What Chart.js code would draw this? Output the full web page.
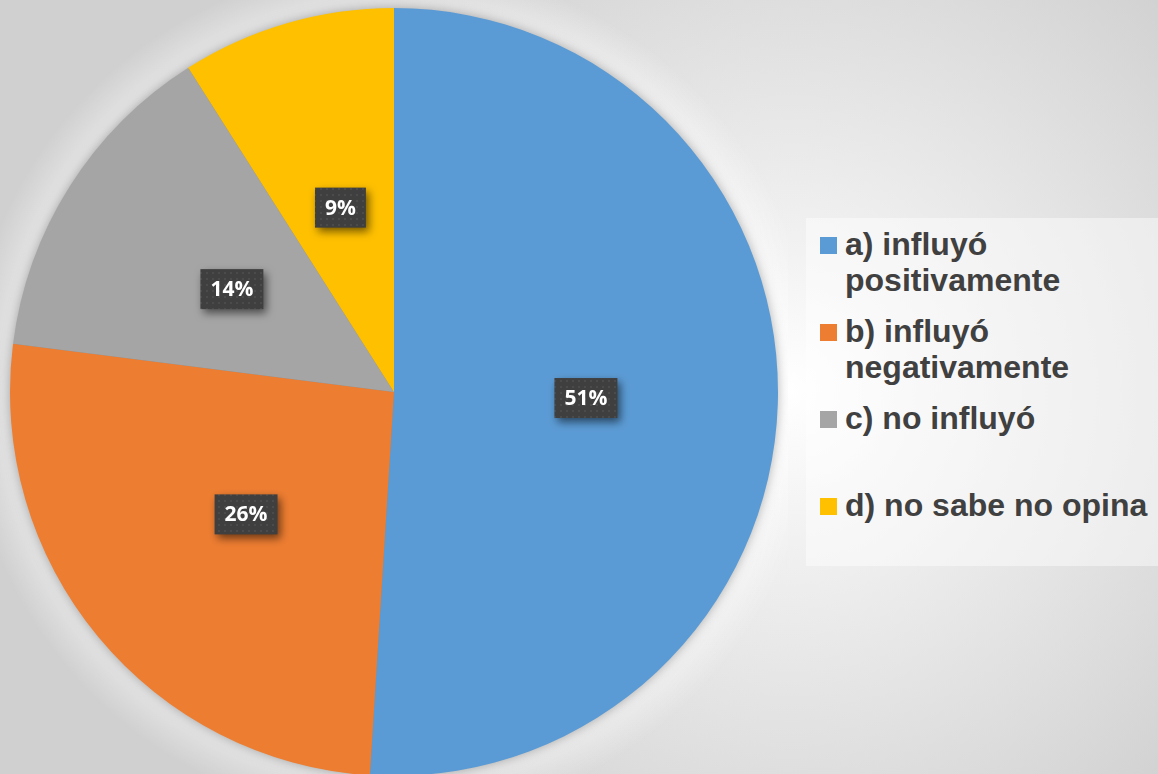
<!DOCTYPE html>
<html>
<head>
<meta charset="utf-8">
<script src="https://cdn.jsdelivr.net/npm/chart.js@4.4.1/dist/chart.umd.min.js"></script>
<style>
  html, body { margin: 0; padding: 0; }
  body {
    width: 1158px; height: 774px; overflow: hidden; position: relative;
    background: radial-gradient(circle 560px at 790px 390px, #ffffff 0%, #f2f2f2 25%, #d0d0d0 100%);
    font-family: "Liberation Sans", Arial, sans-serif;
  }
  #chartWrap { position: absolute; left: 0; top: 0; width: 788px; height: 784px; }
  #legend {
    position: absolute; left: 806px; top: 218px; width: 352px; height: 348px;
    background: rgba(255,255,255,0.45);
  }
  .item { position: absolute; left: 14px; display: flex; align-items: flex-start; }
  .marker { width: 17px; height: 17px; margin-top: 11px; margin-right: 8px; flex: none; }
  .text {
    width: 308px; font-weight: bold; font-size: 32px; line-height: 36px; color: #404040;
  }
</style>
</head>
<body>
<div id="chartWrap"><canvas id="c" width="788" height="784"></canvas></div>
<div id="legend"></div>
<script>
const categories = ["a) influyó positivamente", "b) influyó negativamente", "c) no influyó", "d) no sabe no opina"];
const percentages = [51, 26, 14, 9];
const sliceColors = ["#5B9BD5", "#ED7D31", "#A5A5A5", "#FFC000"];

// HTML legend built from the data arrays
const legend = document.getElementById('legend');
categories.forEach((lab, i) => {
  const it = document.createElement('div');
  it.className = 'item';
  it.style.top = (8 + i * 87) + 'px';
  const m = document.createElement('div');
  m.className = 'marker';
  m.style.background = sliceColors[i];
  const t = document.createElement('div');
  t.className = 'text';
  t.textContent = lab;
  it.appendChild(m); it.appendChild(t);
  legend.appendChild(it);
});

// dotted pattern for label boxes
function makePattern(ctx) {
  const pc = document.createElement('canvas');
  pc.width = 6; pc.height = 6;
  const p = pc.getContext('2d');
  p.fillStyle = '#3f3f3f';
  p.fillRect(0, 0, 6, 6);
  p.fillStyle = '#4b4b4b';
  p.fillRect(2, 2, 2, 2);
  return ctx.createPattern(pc, 'repeat');
}

const pieShadow = {
  id: 'pieShadow',
  beforeDatasetsDraw(chart) {
    const arc = chart.getDatasetMeta(0).data[0];
    if (!arc) return;
    const { x, y, outerRadius } = arc.getProps(['x', 'y', 'outerRadius'], true);
    const ctx = chart.ctx;
    ctx.save();
    const g = ctx.createRadialGradient(x, y, outerRadius, x, y, outerRadius + 45);
    g.addColorStop(0, 'rgba(255,255,255,0.45)');
    g.addColorStop(1, 'rgba(255,255,255,0)');
    ctx.fillStyle = g;
    ctx.beginPath();
    ctx.arc(x, y, outerRadius + 45, 0, Math.PI * 2);
    ctx.fill();
    ctx.shadowColor = 'rgba(0,0,0,0.35)';
    ctx.shadowBlur = 12;
    ctx.fillStyle = '#888';
    ctx.beginPath();
    ctx.arc(x, y, outerRadius - 1, 0, Math.PI * 2);
    ctx.fill();
    ctx.restore();
  }
};

const boxLabels = {
  id: 'boxLabels',
  afterDatasetsDraw(chart) {
    const ctx = chart.ctx;
    const meta = chart.getDatasetMeta(0);
    const pat = makePattern(ctx);
    ctx.save();
    ctx.font = 'bold 21px "Open Sans", "DejaVu Sans", sans-serif';
    ctx.textAlign = 'center';
    ctx.textBaseline = 'middle';
    meta.data.forEach((arc, i) => {
      const pos = arc.tooltipPosition(true);
      const txt = percentages[i] + '%';
      const w = ctx.measureText(txt).width + 20;
      const h = 40;
      ctx.save();
      ctx.shadowColor = 'rgba(0,0,0,0.55)';
      ctx.shadowBlur = 8;
      ctx.shadowOffsetX = 3;
      ctx.shadowOffsetY = 4;
      ctx.fillStyle = pat;
      ctx.fillRect(pos.x - w / 2, pos.y - h / 2, w, h);
      ctx.restore();
      ctx.fillStyle = '#ffffff';
      ctx.fillText(txt, pos.x, pos.y + 1);
    });
    ctx.restore();
  }
};

new Chart(document.getElementById('c'), {
  type: 'pie',
  data: {
    labels: categories,
    datasets: [{
      data: percentages,
      backgroundColor: sliceColors,
      borderWidth: 0,
      hoverOffset: 0,
      offset: 0
    }]
  },
  options: {
    responsive: false,
    animation: false,
    devicePixelRatio: 1,
    layout: { padding: { left: 10, top: 8, right: 10, bottom: 8 } },
    plugins: {
      legend: { display: false },
      tooltip: { enabled: false }
    }
  },
  plugins: [pieShadow, boxLabels]
});
</script>
</body>
</html>
